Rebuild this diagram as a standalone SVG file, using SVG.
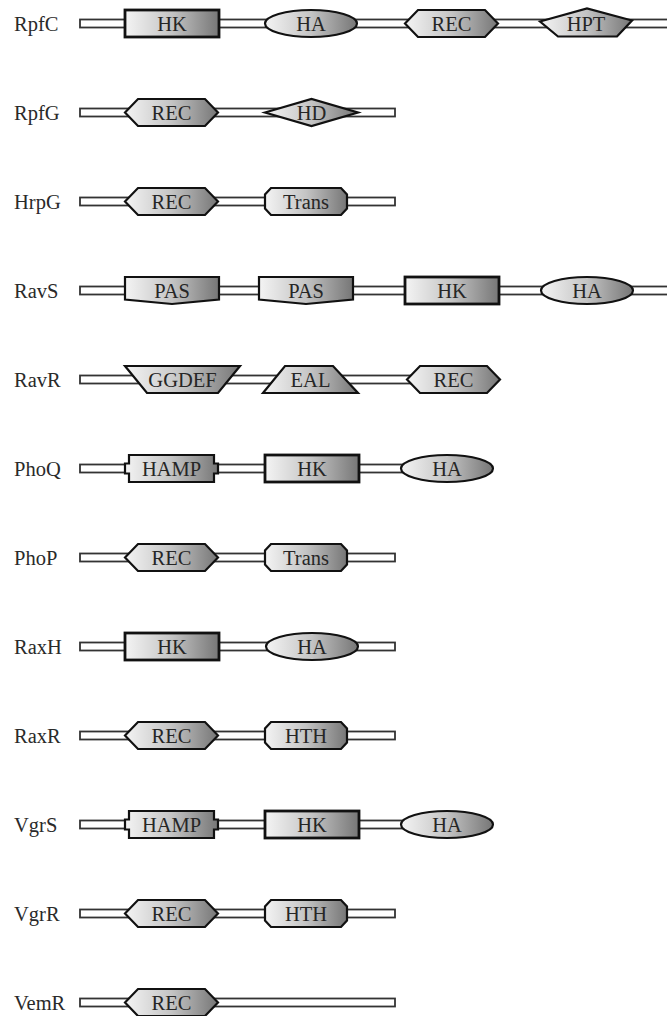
<svg xmlns="http://www.w3.org/2000/svg" xmlns:xlink="http://www.w3.org/1999/xlink" width="667" height="1016" viewBox="0 0 667 1016">
<style>
.lbl{font-family:"Liberation Serif","Times New Roman",serif;font-size:20.5px;fill:#2a2a2a}
.dt{font-family:"Liberation Serif","Times New Roman",serif;font-size:20.5px;fill:#262626;text-anchor:middle}
.dom{fill:url(#grad);stroke:#111;stroke-width:2.2;stroke-linejoin:miter}
.bar{fill:#fff;stroke:#333;stroke-width:1.8}
</style>
<defs>
<linearGradient id="grad" x1="0" y1="0" x2="1" y2="0">
<stop offset="0" stop-color="#f4f4f4"/>
<stop offset="0.5" stop-color="#c4c4c4"/>
<stop offset="1" stop-color="#767676"/>
</linearGradient>
<rect id="hk" class="dom" x="0" y="-13.5" width="94" height="27" style="stroke-width:2.8"/>
<ellipse id="ha" class="dom" cx="46" cy="0" rx="46" ry="13.5"/>
<polygon id="rec" class="dom" points="0,0 13,-13.5 80,-13.5 93,0 80,13.5 13,13.5"/>
<polygon id="hpt" class="dom" points="0,-2 47,-15 92,-3 77,13 18,13"/>
<polygon id="hd" class="dom" points="0,0 46.5,-13.5 93,0 46.5,13.5"/>
<polygon id="oct" class="dom" points="6,-13.5 76,-13.5 82,-7 82,7 76,13.5 6,13.5 0,7 0,-7"/>
<polygon id="pas" class="dom" points="0,-13.5 94,-13.5 94,9 47,13.5 0,9"/>
<polygon id="ggdef" class="dom" points="0,-13.5 115,-13.5 93,13.5 22,13.5"/>
<polygon id="eal" class="dom" points="22,-13.5 70,-13.5 95,13.5 0,13.5"/>
<path id="hamp" class="dom" d="M4,-13.5 H89 V-5 H93 V5 H89 V13.5 H4 V5 H0 V-5 H4 Z"/>
</defs>

<g id="backbones">
<rect class="bar" x="80" y="19.5" width="600" height="8"/>
<rect class="bar" x="80" y="108.5" width="315" height="8"/>
<rect class="bar" x="80" y="197.5" width="315" height="8"/>
<rect class="bar" x="80" y="286.5" width="600" height="8"/>
<rect class="bar" x="80" y="375.5" width="360" height="8"/>
<rect class="bar" x="80" y="464.5" width="360" height="8"/>
<rect class="bar" x="80" y="553.5" width="315" height="8"/>
<rect class="bar" x="80" y="642.5" width="315" height="8"/>
<rect class="bar" x="80" y="731.5" width="315" height="8"/>
<rect class="bar" x="80" y="820.5" width="360" height="8"/>
<rect class="bar" x="80" y="909.5" width="315" height="8"/>
<rect class="bar" x="80" y="998.5" width="315" height="8"/>
</g>

<g id="RpfC" transform="translate(0,23.5)">
<text class="lbl" x="14" y="7">RpfC</text>
<g id="RpfC-HK" transform="translate(125,0)"><use xlink:href="#hk"/><text class="dt" x="47" y="7">HK</text></g>
<g id="RpfC-HA" transform="translate(265,0)"><use xlink:href="#ha"/><text class="dt" x="46" y="7">HA</text></g>
<g id="RpfC-REC" transform="translate(405,0)"><use xlink:href="#rec"/><text class="dt" x="46.5" y="7">REC</text></g>
<g id="RpfC-HPT" transform="translate(540,0)"><use xlink:href="#hpt"/><text class="dt" x="46" y="7.5">HPT</text></g>
</g>

<g id="RpfG" transform="translate(0,112.5)">
<text class="lbl" x="14" y="7">RpfG</text>
<g id="RpfG-REC" transform="translate(125,0)"><use xlink:href="#rec"/><text class="dt" x="46.5" y="7">REC</text></g>
<g id="RpfG-HD" transform="translate(265,0)"><use xlink:href="#hd"/><text class="dt" x="46.5" y="7">HD</text></g>
</g>

<g id="HrpG" transform="translate(0,201.5)">
<text class="lbl" x="14" y="7">HrpG</text>
<g id="HrpG-REC" transform="translate(125,0)"><use xlink:href="#rec"/><text class="dt" x="46.5" y="7">REC</text></g>
<g id="HrpG-Trans" transform="translate(265,0)"><use xlink:href="#oct"/><text class="dt" x="41" y="7">Trans</text></g>
</g>

<g id="RavS" transform="translate(0,290.5)">
<text class="lbl" x="14" y="7">RavS</text>
<g id="RavS-PAS1" transform="translate(125,0)"><use xlink:href="#pas"/><text class="dt" x="47" y="7">PAS</text></g>
<g id="RavS-PAS2" transform="translate(259,0)"><use xlink:href="#pas"/><text class="dt" x="47" y="7">PAS</text></g>
<g id="RavS-HK" transform="translate(405,0)"><use xlink:href="#hk"/><text class="dt" x="47" y="7">HK</text></g>
<g id="RavS-HA" transform="translate(541,0)"><use xlink:href="#ha"/><text class="dt" x="46" y="7">HA</text></g>
</g>

<g id="RavR" transform="translate(0,379.5)">
<text class="lbl" x="14" y="7">RavR</text>
<g id="RavR-GGDEF" transform="translate(125,0)"><use xlink:href="#ggdef"/><text class="dt" x="57.5" y="7">GGDEF</text></g>
<g id="RavR-EAL" transform="translate(263,0)"><use xlink:href="#eal"/><text class="dt" x="47.5" y="7">EAL</text></g>
<g id="RavR-REC" transform="translate(407,0)"><use xlink:href="#rec"/><text class="dt" x="46.5" y="7">REC</text></g>
</g>

<g id="PhoQ" transform="translate(0,468.5)">
<text class="lbl" x="14" y="7">PhoQ</text>
<g id="PhoQ-HAMP" transform="translate(125,0)"><use xlink:href="#hamp"/><text class="dt" x="46.5" y="7">HAMP</text></g>
<g id="PhoQ-HK" transform="translate(265,0)"><use xlink:href="#hk"/><text class="dt" x="47" y="7">HK</text></g>
<g id="PhoQ-HA" transform="translate(401,0)"><use xlink:href="#ha"/><text class="dt" x="46" y="7">HA</text></g>
</g>

<g id="PhoP" transform="translate(0,557.5)">
<text class="lbl" x="14" y="7">PhoP</text>
<g id="PhoP-REC" transform="translate(125,0)"><use xlink:href="#rec"/><text class="dt" x="46.5" y="7">REC</text></g>
<g id="PhoP-Trans" transform="translate(265,0)"><use xlink:href="#oct"/><text class="dt" x="41" y="7">Trans</text></g>
</g>

<g id="RaxH" transform="translate(0,646.5)">
<text class="lbl" x="14" y="7">RaxH</text>
<g id="RaxH-HK" transform="translate(125,0)"><use xlink:href="#hk"/><text class="dt" x="47" y="7">HK</text></g>
<g id="RaxH-HA" transform="translate(266,0)"><use xlink:href="#ha"/><text class="dt" x="46" y="7">HA</text></g>
</g>

<g id="RaxR" transform="translate(0,735.5)">
<text class="lbl" x="14" y="7">RaxR</text>
<g id="RaxR-REC" transform="translate(125,0)"><use xlink:href="#rec"/><text class="dt" x="46.5" y="7">REC</text></g>
<g id="RaxR-HTH" transform="translate(265,0)"><use xlink:href="#oct"/><text class="dt" x="41" y="7">HTH</text></g>
</g>

<g id="VgrS" transform="translate(0,824.5)">
<text class="lbl" x="14" y="7">VgrS</text>
<g id="VgrS-HAMP" transform="translate(125,0)"><use xlink:href="#hamp"/><text class="dt" x="46.5" y="7">HAMP</text></g>
<g id="VgrS-HK" transform="translate(265,0)"><use xlink:href="#hk"/><text class="dt" x="47" y="7">HK</text></g>
<g id="VgrS-HA" transform="translate(401,0)"><use xlink:href="#ha"/><text class="dt" x="46" y="7">HA</text></g>
</g>

<g id="VgrR" transform="translate(0,913.5)">
<text class="lbl" x="14" y="7">VgrR</text>
<g id="VgrR-REC" transform="translate(125,0)"><use xlink:href="#rec"/><text class="dt" x="46.5" y="7">REC</text></g>
<g id="VgrR-HTH" transform="translate(265,0)"><use xlink:href="#oct"/><text class="dt" x="41" y="7">HTH</text></g>
</g>

<g id="VemR" transform="translate(0,1002.5)">
<text class="lbl" x="14" y="7">VemR</text>
<g id="VemR-REC" transform="translate(125,0)"><use xlink:href="#rec"/><text class="dt" x="46.5" y="7">REC</text></g>
</g>
</svg>
